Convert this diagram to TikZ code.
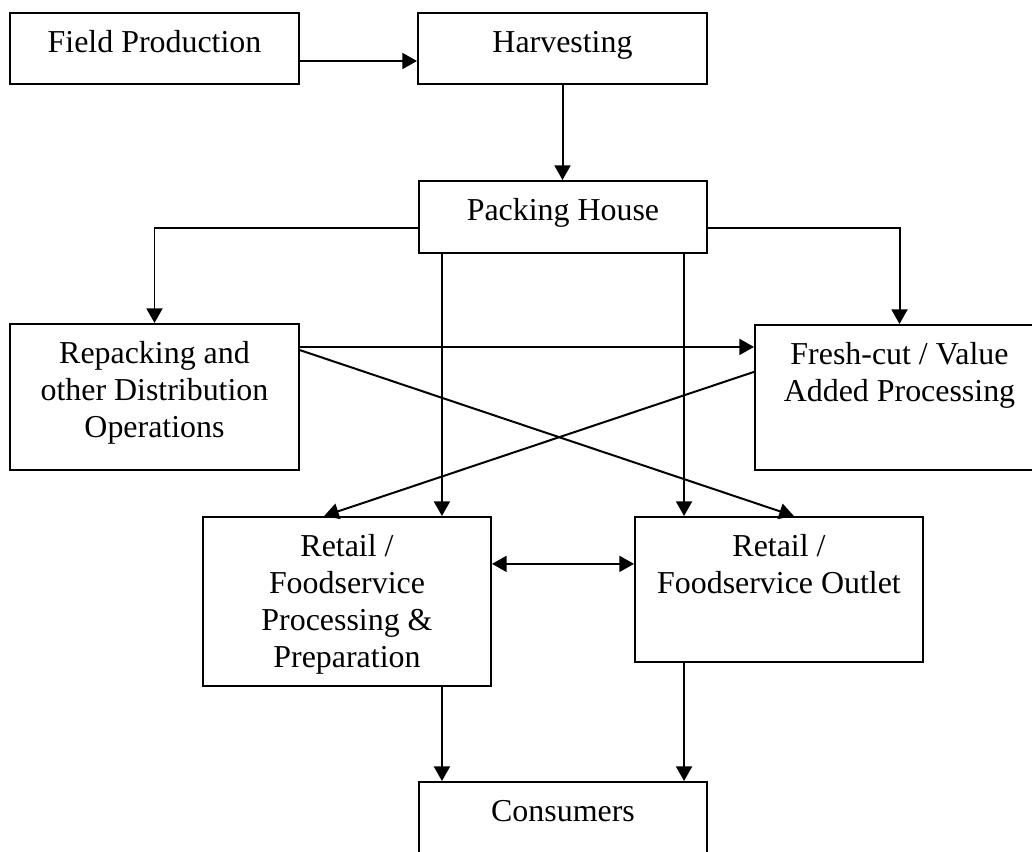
\documentclass[tikz,border=0pt]{standalone}
\usepackage{fontspec}
\setmainfont{Liberation Serif}
\usetikzlibrary{arrows.meta}
\newlength{\pxu}
\setlength{\pxu}{0.376pt}
\newcommand{\stagetext}[3]{\parbox[t][#2\pxu][t]{#1\pxu}{\centering\rule{0pt}{15pt}#3}}
\begin{document}
\begin{tikzpicture}[x=0.376pt, y=-0.376pt,
  stage/.style={draw, line width=0.75pt, inner sep=0pt, anchor=north west,
    font=\fontsize{12}{13.9}\selectfont},
  flow/.style={-{Triangle[length=5.5pt,width=6pt]}, line width=0.75pt},
  twoway/.style={{Triangle[length=5.5pt,width=6pt]}-{Triangle[length=5.5pt,width=6pt]}, line width=0.75pt}]
\clip (0,0) rectangle (1032,851);
% boxes
\node[stage] (fp) at (9,12) {\stagetext{289}{71}{Field Production}};
\node[stage] (harv) at (417,12) {\stagetext{289}{71}{Harvesting}};
\node[stage] (ph) at (418,180) {\stagetext{288}{72}{Packing House}};
\node[stage] (repack) at (9,323) {\stagetext{289}{146}{Repacking and\\other Distribution\\Operations}};
\node[stage] (fresh) at (754,324) {\stagetext{289}{145}{Fresh-cut / Value\\Added Processing}};
\node[stage] (proc) at (202,516) {\stagetext{288}{169}{Retail /\\Foodservice\\Processing \&\\Preparation}};
\node[stage] (out) at (634,516) {\stagetext{288}{145}{Retail /\\Foodservice Outlet}};
\node[stage] (cons) at (418,781) {\stagetext{288}{100}{Consumers}};
% columns under the packing house
\coordinate (lcol) at ([xshift=9pt]ph.south west);
\coordinate (rcol) at ([xshift=-9pt]ph.south east);
\coordinate (rf) at ([yshift=-9pt]repack.north east);
% arrows
\draw[flow] ([yshift=-4.7pt]fp.east) -- ([yshift=-4.7pt]harv.west);
\draw[flow] (harv.south) -- (harv.south |- ph.north);
\draw[flow] ([yshift=-4.1pt]ph.west) -| (repack.north);
\draw[flow] ([yshift=-4.1pt]ph.east) -| (fresh.north);
\draw[flow] (lcol) -- (lcol |- proc.north);
\draw[flow] (rcol) -- (rcol |- out.north);
\draw[flow] (rf) -- (rf -| fresh.west);
\draw[flow] ([yshift=-10.2pt]repack.north east) -- ([xshift=5.6pt]out.north);
\draw[flow] ([yshift=-18pt]fresh.north west) -- ([xshift=-8.6pt]proc.north);
\draw[twoway] ([yshift=-18pt]proc.north east) -- ([yshift=-18pt]out.north west);
\draw[flow] (proc.south -| lcol) -- (cons.north -| lcol);
\draw[flow] (out.south -| rcol) -- (cons.north -| rcol);
\end{tikzpicture}
\end{document}
